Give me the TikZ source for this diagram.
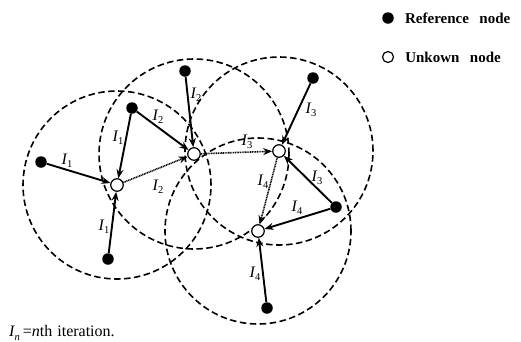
\documentclass[tikz,border=0pt]{standalone}
\usepackage{fontspec}
\setmainfont{Liberation Serif}
\usepackage{tikz}
\usetikzlibrary{arrows.meta, positioning, backgrounds}

\newcommand{\iterlbl}[1]{\textit{I}\kern-0.5pt\raisebox{-0.45ex}{\fontsize{10.5}{11}\selectfont #1}}

\tikzset{
    refnode/.style={circle, fill=black, inner sep=0pt, minimum size=11.5pt},
    unknode/.style={circle, draw=black, fill=white, line width=1.2pt, inner sep=0pt, minimum size=12.5pt},
    rangecircle/.style={dashed, dash pattern=on 6.5pt off 3.5pt, line width=1.6pt},
    solidarrow/.style={-{Stealth[length=9pt,width=7pt]}, line width=1.9pt},
    iterarrow/.style={-{Stealth[length=9pt,width=7pt]}, line width=1.6pt, dash pattern=on 1pt off 0.7pt},
    lbl/.style={font=\fontsize{16}{18}\selectfont, inner sep=0pt},
    legtext/.style={font=\fontsize{15}{17}\selectfont\bfseries, inner sep=0pt}
}

\begin{document}
\begin{tikzpicture}[x=1pt, y=-1pt]
    \useasboundingbox (0,0) rectangle (521,341);

    % Unknown nodes
    \node[unknode] (u1) at (117,185) {};
    \node[unknode] (u2) at (194,154) {};
    \node[unknode] (u3) at (279,151) {};
    \node[unknode] (u4) at (258,231) {};

    % Reference nodes
    \node[refnode] (r1) at (41,162) {};
    \node[refnode] (r2) at (132,108) {};
    \node[refnode] (r3) at (108,259) {};
    \node[refnode] (r4) at (185,71) {};
    \node[refnode] (r5) at (313,78) {};
    \node[refnode] (r6) at (336,207) {};
    \node[refnode] (r7) at (267,308) {};

    % Ranges
    \begin{scope}[on background layer]
        \draw[rangecircle] (u1) circle[radius=94pt];
        \draw[rangecircle] (u2) circle[radius=95pt];
        \draw[rangecircle] (u3) circle[radius=94pt];
        \draw[rangecircle] (u4) circle[radius=93pt];
    \end{scope}

    % Iteration 1
    \draw[solidarrow] (r1) -- (u1);
    \draw[solidarrow] (r2) -- (u1);
    \draw[solidarrow] (r3) -- (u1);
    \node[lbl] at (67,161) {\iterlbl{1}};
    \node[lbl] at (118,138) {\iterlbl{1}};
    \node[lbl] at (104,227) {\iterlbl{1}};

    % Iteration 2
    \draw[solidarrow] (r2) -- (u2);
    \draw[solidarrow] (r4) -- (u2);
    \draw[iterarrow] (u1) -- (u2);
    \node[lbl] at (158,117) {\iterlbl{2}};
    \node[lbl] at (196,95) {\iterlbl{2}};
    \node[lbl] at (158,187) {\iterlbl{2}};

    % Iteration 3
    \draw[solidarrow] (r5) -- (u3);
    \draw[solidarrow] (r6) -- (u3);
    \draw[iterarrow] (u2) -- (u3);
    \node[lbl] at (311,110) {\iterlbl{3}};
    \node[lbl] at (317,178) {\iterlbl{3}};
    \node[lbl] at (247,142) {\iterlbl{3}};

    % Iteration 4
    \draw[solidarrow] (r6) -- (u4);
    \draw[solidarrow] (r7) -- (u4);
    \draw[iterarrow] (u3) -- (u4);
    \node[lbl] at (297,208) {\iterlbl{4}};
    \node[lbl] at (255,274) {\iterlbl{4}};
    \node[lbl] at (263,182) {\iterlbl{4}};

    % Legend
    \node[refnode] (legref) at (388,18) {};
    \node[legtext, right=11pt of legref] (legreftext) {Reference\hspace{0.7em}node};
    \node[unknode, minimum size=11pt] (legunk) at (388,57) {};
    \node[legtext, right=11pt of legunk] (legunktext) {Unkown\hspace{0.7em}node};

    % Note
    \node[lbl, anchor=west] (note) at (9,333) {\iterlbl{\textit{n}}\hspace{3pt}=\textit{n}th\hspace{5pt}iteration.};
\end{tikzpicture}
\end{document}
